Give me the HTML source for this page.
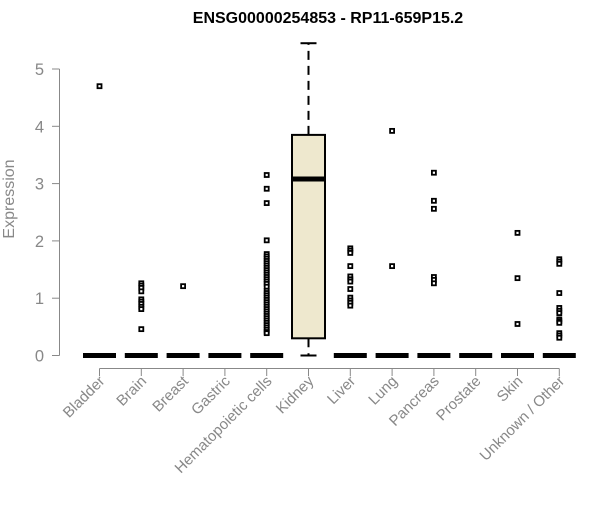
<!DOCTYPE html>
<html><head><meta charset="utf-8"><style>
body{margin:0;background:#fff;}
svg text{font-family:"Liberation Sans",Arial,sans-serif;}
</style></head><body>
<svg id="chart" width="600" height="500" viewBox="0 0 600 500" xmlns="http://www.w3.org/2000/svg">
<rect width="600" height="500" fill="#fff"/>
<text x="328" y="23" text-anchor="middle" font-size="16" font-weight="bold" fill="#000">ENSG00000254853 - RP11-659P15.2</text>
<text transform="translate(14,199) rotate(-90)" text-anchor="middle" font-size="16" fill="#888">Expression</text>
<g id="axes"></g>
<g id="marks"></g>
</svg>
<script>
const categories = ["Bladder","Brain","Breast","Gastric","Hematopoietic cells","Kidney","Liver","Lung","Pancreas","Prostate","Skin","Unknown / Other"];
const q1 = [0,0,0,0,0,0.30,0,0,0,0,0,0];
const medians = [0,0,0,0,0,3.08,0,0,0,0,0,0];
const q3 = [0,0,0,0,0,3.85,0,0,0,0,0,0];
const whiskerLow = [0,0,0,0,0,0,0,0,0,0,0,0];
const whiskerHigh = [0,0,0,0,0,5.45,0,0,0,0,0,0];
const outliers = [
 [4.7],
 [1.26,1.22,1.18,1.12,0.98,0.94,0.90,0.85,0.81,0.46],
 [1.21],
 [],
 [3.15,2.91,2.66,2.01,1.77,1.73,1.69,1.65,1.61,1.57,1.53,1.49,1.45,1.41,1.37,1.33,1.29,1.25,1.20,1.13,1.09,1.05,1.01,0.97,0.93,0.89,0.85,0.81,0.77,0.73,0.69,0.65,0.61,0.57,0.53,0.49,0.45,0.41,0.39],
 [],
 [1.87,1.83,1.79,1.56,1.38,1.33,1.29,1.16,1.01,0.96,0.92,0.87],
 [3.92,1.56],
 [3.19,2.70,2.56,1.37,1.32,1.26],
 [],
 [2.14,1.35,0.55],
 [1.68,1.64,1.60,1.09,0.83,0.78,0.74,0.63,0.60,0.57,0.39,0.35,0.31]
];
const yTicks = [0,1,2,3,4,5];

const NS="http://www.w3.org/2000/svg";
function xPos(i){return 99.5+i*41.8;}
function yPos(v){return 355.5-v*57.3;}
function mk(tag,attrs,parent){const e=document.createElementNS(NS,tag);for(const k in attrs)e.setAttribute(k,attrs[k]);parent.appendChild(e);return e;}
const axes=document.getElementById('axes'), marks=document.getElementById('marks');

let yl=mk('line',{x1:59.5,x2:59.5,y1:yPos(5),y2:yPos(0),stroke:'#888','stroke-width':1},axes);


yTicks.forEach(t=>{
 const tk=mk('line',{x1:52,x2:59.5,y1:yPos(t),y2:yPos(t),stroke:'#888'},axes);
 
 
 const tx=mk('text',{x:44,y:yPos(t)+6,'text-anchor':'end','font-size':16.5,fill:'#888'},axes);
 tx.textContent=t;
 
 
});
let xl=mk('line',{x1:xPos(0),x2:xPos(categories.length-1),y1:368.5,y2:368.5,stroke:'#888'},axes);


categories.forEach((c,i)=>{
 const x=xPos(i);
 const tk=mk('line',{x1:x,x2:x,y1:368.5,y2:376,stroke:'#888'},axes);
 
 
 const tx=mk('text',{transform:`translate(${x+6},382) rotate(-45)`,'text-anchor':'end','font-size':15,fill:'#888'},axes);
 tx.textContent=c;
 
 
});
categories.forEach((c,i)=>{
 const x=xPos(i), hw=16.5;
 const g=mk('g',{},marks);
 
 
 if(q3[i]>q1[i]){
  mk('line',{x1:x,x2:x,y1:yPos(q3[i]),y2:yPos(whiskerHigh[i]),stroke:'#000','stroke-width':2,'stroke-dasharray':'9,6'},g);
  mk('line',{x1:x,x2:x,y1:yPos(q1[i]),y2:yPos(whiskerLow[i]),stroke:'#000','stroke-width':2,'stroke-dasharray':'9,6'},g);
  mk('line',{x1:x-8,x2:x+8,y1:yPos(whiskerHigh[i]),y2:yPos(whiskerHigh[i]),stroke:'#000','stroke-width':2},g);
  mk('line',{x1:x-8,x2:x+8,y1:yPos(whiskerLow[i]),y2:yPos(whiskerLow[i]),stroke:'#000','stroke-width':2},g);
  mk('rect',{x:x-hw,y:yPos(q3[i]),width:2*hw,height:yPos(q1[i])-yPos(q3[i]),fill:'#EEE8CE',stroke:'#000','stroke-width':2},g);
 }
 mk('line',{x1:x-hw,x2:x+hw,y1:yPos(medians[i]),y2:yPos(medians[i]),stroke:'#000','stroke-width':5},g);
 outliers[i].forEach(v=>{
  const r=mk('rect',{x:x-2,y:yPos(v)-2,width:4,height:4,fill:'#fff',stroke:'#000','stroke-width':1.8},g);
  
  
 });
});
</script>
</body></html>
